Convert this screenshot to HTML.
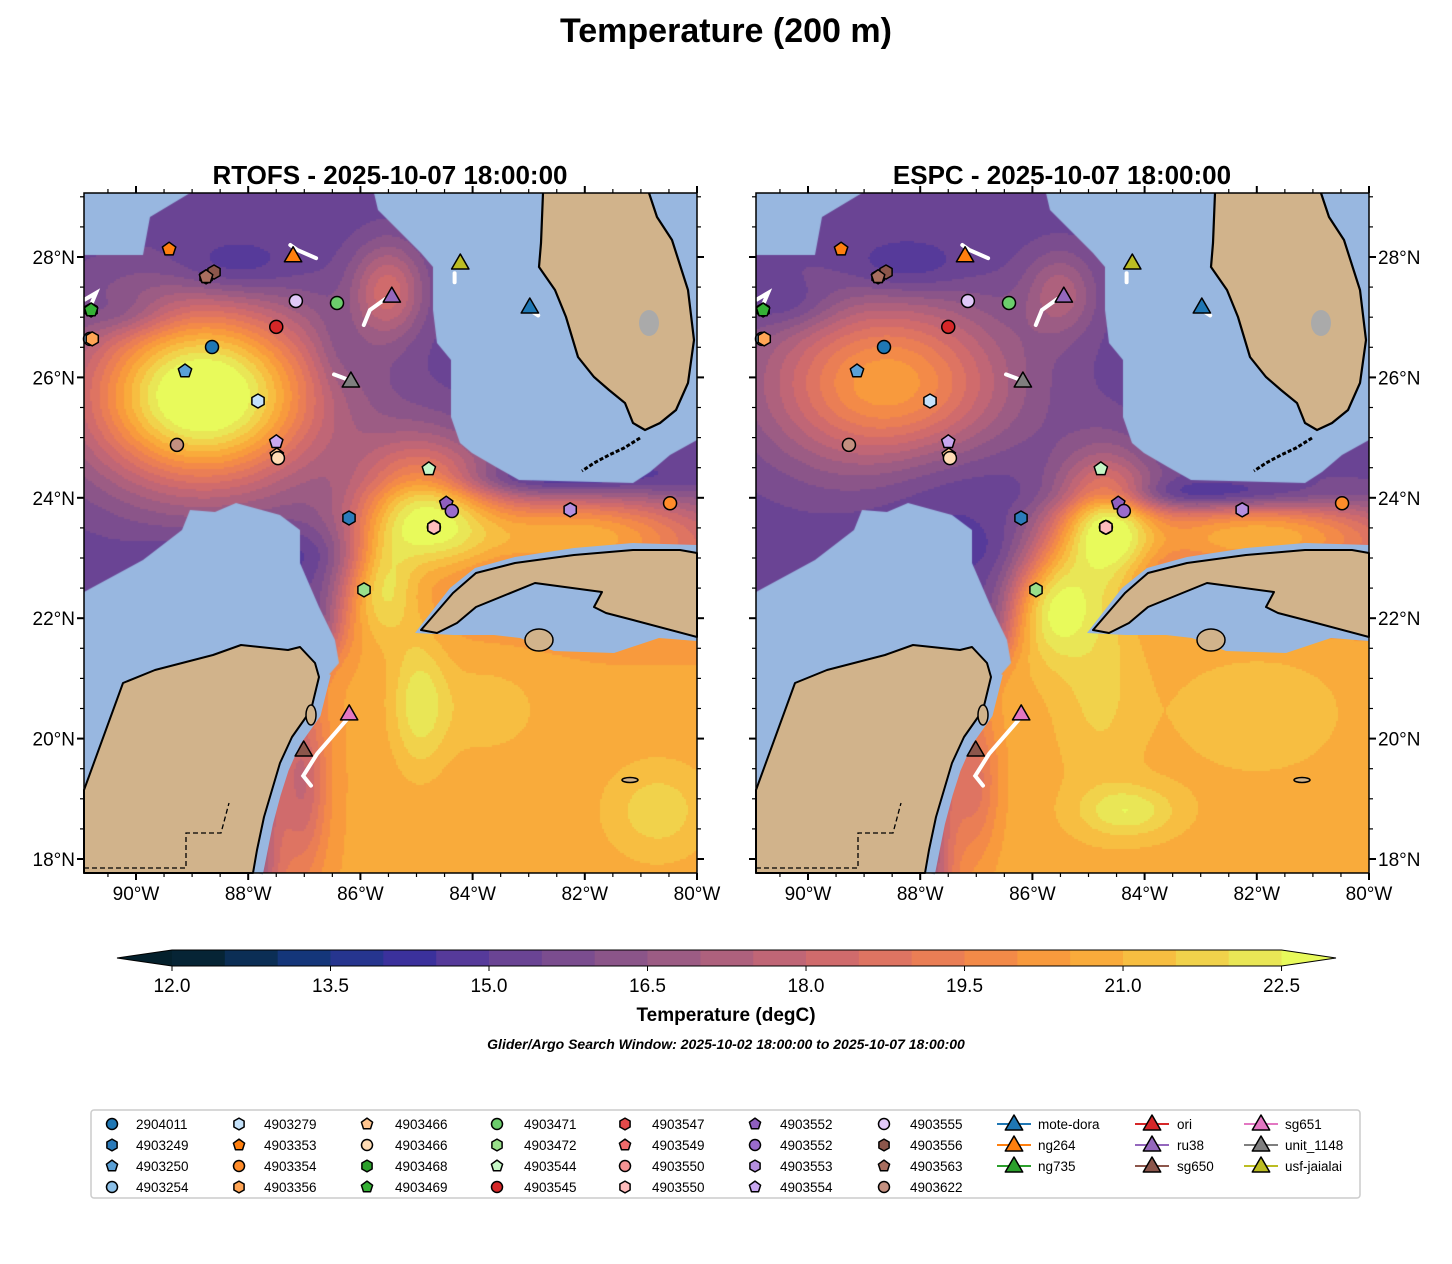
<!DOCTYPE html>
<html><head><meta charset="utf-8"><title>Temperature (200 m)</title>
<style>
html,body{margin:0;padding:0;background:#fff;}
#wrap{position:relative;width:1452px;height:1264px;overflow:hidden;font-family:"Liberation Sans","DejaVu Sans",sans-serif;}
canvas{position:absolute;}
svg{position:absolute;left:0;top:0;}
</style></head>
<body>
<div id="wrap">
<canvas id="cvR" width="613" height="680" style="left:84px;top:193px;width:613px;height:680px"></canvas>
<canvas id="cvE" width="613" height="680" style="left:756px;top:193px;width:613px;height:680px"></canvas>
<svg id="sv" width="1452" height="1264" xmlns="http://www.w3.org/2000/svg">
<text x="726" y="42" text-anchor="middle" font-size="34" font-weight="bold">Temperature (200 m)</text>
<text x="390" y="184" text-anchor="middle" font-size="26" font-weight="bold">RTOFS - 2025-10-07 18:00:00</text>
<text x="1062" y="184" text-anchor="middle" font-size="26" font-weight="bold">ESPC - 2025-10-07 18:00:00</text>
<g id="mapR" transform="translate(84,193)"></g>
<g id="mapE" transform="translate(756,193)"></g>
<g id="cbar"></g>
<text x="726" y="1021" text-anchor="middle" font-size="19" font-weight="bold">Temperature (degC)</text>
<text x="726" y="1049" text-anchor="middle" font-size="14" font-weight="bold" font-style="italic">Glider/Argo Search Window: 2025-10-02 18:00:00 to 2025-10-07 18:00:00</text>
<rect x="91" y="1110" width="1269" height="88" rx="3" fill="#fff" stroke="#cccccc" stroke-width="1.5"/>
<g id="legend"></g>
</svg>
</div>
<script>
// ---------- data ----------
const argoIds = ["2904011","4903249","4903250","4903254","4903279","4903353","4903354","4903356","4903466","4903466","4903468","4903469","4903471","4903472","4903544","4903545","4903547","4903549","4903550","4903550","4903552","4903552","4903553","4903554","4903555","4903556","4903563","4903622"];
const argoShapes = ["o","h","p","o","h","p","o","h","p","o","h","p","o","h","p","o","h","p","o","h","p","o","h","p","o","h","p","o"];
const argoColors = ["#1f77b4","#2b7bba","#5aa0d6","#8cc0e8","#c5e2fa","#ff7f0e","#ff8c2a","#ffa555","#ffc58f","#ffdcb5","#2ca02c","#35b035","#6ccd6c","#98df8a","#c6f7c6","#d62728","#e24a4a","#ef6a6a","#f59494","#ffbcbc","#8f5fbf","#9a6bcc","#b58fe0","#c9a8f0","#e1c8f8","#8c564b","#a86e5f","#c49080"];
const argoLon = [-88.645,-86.203,-89.127,-90.82,-87.825,-89.41,-80.48,-90.78,-87.49,-87.47,-90.80,-90.80,-86.417,-85.936,-84.78,-87.50,-88.75,-88.75,-84.69,-84.69,-84.47,-84.37,-82.26,-87.50,-87.15,-88.61,-88.75,-89.27];
const argoLat = [26.505,23.664,26.106,26.64,25.608,28.13,23.91,26.64,24.71,24.66,27.12,27.12,27.236,22.47,24.48,26.84,27.67,27.67,23.51,23.51,23.91,23.78,23.80,24.93,27.27,27.75,27.67,24.88];
const gliderIds = ["mote-dora","ng264","ng735","ori","ru38","sg650","sg651","unit_1148","usf-jaialai"];
const gliderColors = ["#1f77b4","#ff7f0e","#2ca02c","#d62728","#9467bd","#8c564b","#e377c2","#7f7f7f","#bcbd22"];
const gliderLon = [-82.98,-87.20,null,null,-85.44,-87.01,-86.20,-86.17,-84.22];
const gliderLat = [27.17,28.02,null,null,27.35,19.81,20.41,25.94,27.90];
const trackLon = [[-82.93,-82.83],[-87.25,-87.13,-86.79],[],[],[-85.94,-85.83,-85.56],[-86.21,-86.77,-87.02,-86.88],[],[-86.47,-86.27],[-84.32,-84.32]];
const trackLat = [[27.09,27.03],[28.20,28.12,27.98],[],[],[26.87,27.12,27.30],[20.35,19.75,19.38,19.22],[],[26.05,25.98],[27.73,27.58]];
const cbLevels = [12.0,12.5,13.0,13.5,14.0,14.5,15.0,15.5,16.0,16.5,17.0,17.5,18.0,18.5,19.0,19.5,20.0,20.5,21.0,21.5,22.0,22.5];
const cbColors = ["#062435","#0b2e55","#14367a","#26358f","#3b319c","#563a9a","#6a4494","#7b4d8f","#8b5589","#9c5c84","#ae617d","#c06676","#d06b6c","#de7462","#ea7e55","#f38a48","#f89a3d","#f9ab3b","#f7be41","#f1d24b","#e9e656"];
const cbTicks = [12.0,13.5,15.0,16.5,18.0,19.5,21.0,22.5];
const latTicks = [18,20,22,24,26,28];
const lonTicks = [-90,-88,-86,-84,-82,-80];
// field features: lon, lat, sx, sy, amplitude
const rtofsBlobs = [[-88.8,25.7,1.45,1.05,8.6],[-84.9,23.8,0.85,0.8,5.8],[-85.6,22.6,0.4,0.6,2.5],[-82.2,23.4,1.9,0.5,5.2],[-82.5,24.3,1.6,0.2,-1.6],[-85.5,27.45,0.45,0.55,3.0],[-84.95,20.6,0.35,0.8,1.6],[-87.0,19.3,0.3,1.1,-2.4],[-88.3,27.8,0.8,0.35,-1.3],[-90.2,27.05,0.6,0.25,-1.0],[-87.7,23.1,1.2,0.3,-0.9],[-86.4,26.4,0.3,0.5,-0.6],[-80.7,18.8,0.7,0.6,1.2],[-83.8,20.5,0.8,0.6,0.7]];
const espcBlobs = [[-88.6,25.9,1.5,1.0,5.2],[-84.7,23.5,0.6,0.8,5.6],[-85.6,22.4,0.45,0.7,2.8],[-82.0,23.4,1.9,0.45,5.2],[-82.8,24.05,1.5,0.18,-2.0],[-85.5,27.4,0.45,0.5,2.0],[-84.3,18.8,0.6,0.3,1.6],[-88.3,27.8,0.8,0.35,-1.2],[-90.3,27.2,0.6,0.3,-1.0],[-87.6,24.3,1.0,0.6,-0.7],[-87.5,23.2,1.2,0.35,-0.6],[-87.0,19.3,0.3,0.9,-1.8],[-84.8,21.0,0.5,1.2,0.9],[-82.0,20.5,1.0,0.7,0.6]];

// ---------- axes ----------
function xOf(lon){return 52+(lon+90)*56.1;}
function yOf(lat){return 64+(28-lat)*60.2;}
function lonOf(x){return -90+(x-52)/56.1;}
function latOf(y){return 28-(y-64)/60.2;}
function cbX(v){return 172+(v-12)*105.67;}

function field(lon,lat,blobs,carAmp){
  let t=15.2;
  const s=1/(1+Math.exp((lat-22.6)/0.35));
  const c0=-86.4-1.2/(1+Math.exp(-(21-lat)/0.3));
  const sl=1/(1+Math.exp(-(lon-c0)/0.2));
  t+=carAmp*s*sl;
  for(const b of blobs){const dx=(lon-b[0])/b[2],dy=(lat-b[1])/b[3];t+=b[4]*Math.exp(-0.5*(dx*dx+dy*dy));}
  return t;
}
function colorFor(t){
  if(t<cbLevels[0])return "#04202c";
  if(t>=cbLevels[cbLevels.length-1])return "#e8fa5b";
  return cbColors[Math.floor((t-12)/0.5)];
}
const deep=[[0,62],[59,62],[66,24],[106,0],[290,0],[294,17],[337,60],[349,74],[349,117],[353,150],[367,167],[367,224],[376,250],[388,260],[412,274],[435,287],[549,290],[566,279],[586,262],[613,247],[613,680],[169,680],[186,607],[216,527],[243,484],[255,470],[251,447],[235,414],[216,370],[216,337],[196,322],[152,310],[131,319],[106,317],[98,337],[59,367],[0,399]];
function drawField(id,blobs,carAmp){
  const c=document.getElementById(id).getContext('2d');
  c.fillStyle="#98b7e0";c.fillRect(0,0,613,680);
  c.save();c.beginPath();deep.forEach((p,i)=>i?c.lineTo(p[0],p[1]):c.moveTo(p[0],p[1]));c.closePath();c.clip();
  for(let py=0;py<680;py+=2)for(let px=0;px<613;px+=2){
    c.fillStyle=colorFor(field(lonOf(px+1),latOf(py+1),blobs,carAmp));c.fillRect(px,py,2,2);}
  c.restore();
}
drawField('cvR',rtofsBlobs,5.4);
drawField('cvE',espcBlobs,5.6);

const NS="http://www.w3.org/2000/svg";
function mk(tag,attrs,parent){const e=document.createElementNS(NS,tag);for(const k in attrs)e.setAttribute(k,attrs[k]);parent.appendChild(e);return e;}
function pts(a){return a.map(p=>p.join(',')).join(' ');}
function shapePts(shape,cx,cy,r){
  const n=shape==="h"?6:(shape==="p"?5:3);const o=[];
  for(let i=0;i<n;i++){const a=-Math.PI/2+i*2*Math.PI/n;o.push([(cx+r*Math.cos(a)).toFixed(1),(cy+r*Math.sin(a)).toFixed(1)]);}
  return pts(o);
}
function marker(parent,shape,cx,cy,r,fill){
  cx=+cx;cy=+cy;
  let e;
  if(shape==="o"){e=mk('circle',{cx:cx,cy:cy,r:r,fill:fill,stroke:'#000','stroke-width':1.5},parent);}
  else{e=mk('polygon',{points:shapePts(shape,cx,cy,shape==="t"?r*1.25:r*1.08),fill:fill,stroke:'#000','stroke-width':1.5,'stroke-linejoin':'round'},parent);}
  return e;
}

const yuc=[[0,597],[39,490],[71,477],[129,462],[157,452],[204,457],[216,454],[231,470],[235,484],[227,517],[208,544],[196,570],[188,597],[180,624],[173,657],[169,680],[0,680]];
const cuba=[[337,437],[369,400],[392,380],[431,370],[490,362],[549,357],[596,357],[613,360],[613,444],[549,427],[522,420],[510,414],[518,399],[451,390],[392,414],[373,430],[353,440]];
const cubaShelf=[[331,440],[366,395],[391,375],[431,364],[490,355],[549,350],[613,352],[613,448],[575,445],[530,460],[470,458],[436,445],[410,442],[370,442]];
const fla=[[459,0],[457,50],[455,74],[471,97],[482,124],[488,144],[494,164],[510,184],[525,197],[541,210],[549,230],[561,237],[576,230],[592,217],[604,190],[610,147],[604,97],[588,47],[573,24],[565,0]];

function buildMap(gid,prefix,rightLabels){
  const g=document.getElementById(gid);
  const shelf=mk('polyline',{points:pts([[240,480],[230,520],[210,548],[198,575],[190,600],[182,630],[176,660],[172,680]]),fill:'none',stroke:'#98b7e0','stroke-width':14},g);
  
  
  const cs=mk('polygon',{points:pts(cubaShelf),fill:'#98b7e0'},g);
  
  
  const y=mk('polygon',{points:pts(yuc),fill:'#d1b38b',stroke:'#000','stroke-width':2,'stroke-linejoin':'round'},g);
  
  
  const b=mk('polyline',{points:pts([[0,675],[102,675],[102,640],[137,640],[145,610]]),fill:'none',stroke:'#000','stroke-width':1.3,'stroke-dasharray':'5,3'},g);
  
  
  const cz=mk('ellipse',{cx:227,cy:522,rx:5,ry:10,fill:'#d1b38b',stroke:'#000','stroke-width':1.5},g);
  
  
  const c=mk('polygon',{points:pts(cuba),fill:'#d1b38b',stroke:'#000','stroke-width':2,'stroke-linejoin':'round'},g);
  
  
  const iy=mk('ellipse',{cx:455,cy:447,rx:14,ry:11,fill:'#d1b38b',stroke:'#000','stroke-width':1.5},g);
  
  
  const f=mk('polygon',{points:pts(fla),fill:'#d1b38b',stroke:'none'},g);
  
  
  const fc=mk('polyline',{points:pts(fla),fill:'none',stroke:'#000','stroke-width':2.2},g);
  
  
  const lk=mk('ellipse',{cx:565,cy:130,rx:10,ry:13,fill:'#aaaaaa'},g);
  
  
  const keys=mk('polyline',{points:pts([[556,245],[540,255],[525,262],[510,270],[498,278]]),fill:'none',stroke:'#000','stroke-width':3,'stroke-dasharray':'4,2'},g);
  
  
  const jm=mk('ellipse',{cx:546,cy:587,rx:8,ry:2.5,fill:'#d1b38b',stroke:'#000','stroke-width':1.5},g);
  
  
  for(let i=0;i<gliderIds.length;i++){
    if(trackLon[i].length<2)continue;
    const t=mk('polyline',{points:pts(trackLon[i].map((lo,j)=>[xOf(lo).toFixed(1),yOf(trackLat[i][j]).toFixed(1)])),fill:'none',stroke:'#fff','stroke-width':4,'stroke-linecap':'round'},g);
    
    
  }
  const lt=mk('polyline',{points:pts([[0,107],[12,100],[4,119]]),fill:'none',stroke:'#fff','stroke-width':4},g);
  
  
  for(let i=0;i<argoIds.length;i++){
    const m=marker(g,argoShapes[i],xOf(argoLon[i]),yOf(argoLat[i]),6.5,argoColors[i]);
    
    
  }
  for(let i=0;i<gliderIds.length;i++){
    if(gliderLon[i]===null)continue;
    const m=marker(g,"t",xOf(gliderLon[i]),yOf(gliderLat[i])+1,8,gliderColors[i]);
    
    
  }
  const fr=mk('rect',{x:0,y:0,width:613,height:680,fill:'none',stroke:'#000','stroke-width':1.5},g);
  
  
  for(let lo=-91;lo<=-80;lo+=0.5){const x=xOf(lo);if(x<0||x>613.5)continue;
    const major=Math.abs(lo/2-Math.round(lo/2))<1e-6;const L=major?7:4,w=major?2:1.2;
    const t1=mk('line',{x1:x,y1:680,x2:x,y2:680+L,stroke:'#000','stroke-width':w},g);
    
    
    const t2=mk('line',{x1:x,y1:0,x2:x,y2:-L,stroke:'#000','stroke-width':w},g);
    
    
  }
  for(let la=17.5;la<=29;la+=0.5){const y=yOf(la);if(y<0||y>680)continue;
    const major=Math.abs(la/2-Math.round(la/2))<1e-6;const L=major?7:4,w=major?2:1.2;
    const t1=mk('line',{x1:0,y1:y,x2:-L,y2:y,stroke:'#000','stroke-width':w},g);
    
    
    const t2=mk('line',{x1:613,y1:y,x2:613+L,y2:y,stroke:'#000','stroke-width':w},g);
    
    
  }
  lonTicks.forEach(lo=>{
    const t=mk('text',{x:xOf(lo),y:707,'text-anchor':'middle','font-size':19},g);t.textContent=Math.abs(lo)+'°W';
    
    
  });
  latTicks.forEach(la=>{
    const t=rightLabels?mk('text',{x:622,y:yOf(la)+7,'text-anchor':'start','font-size':19},g):mk('text',{x:-9,y:yOf(la)+7,'text-anchor':'end','font-size':19},g);
    t.textContent=la+'°N';
    
    
  });
}
buildMap('mapR','rtofs',false);
buildMap('mapE','espc',true);

const cb=document.getElementById('cbar');
for(let i=0;i<cbColors.length;i++){
  const r=mk('rect',{x:cbX(cbLevels[i]).toFixed(1),y:950,width:(cbX(cbLevels[i+1])-cbX(cbLevels[i])+0.6).toFixed(1),height:16,fill:cbColors[i]},cb);
  
  
}
const ul=mk('polygon',{points:pts([[cbX(12),950],[117,958],[cbX(12),966]]),fill:'#04202c'},cb);


const ov=mk('polygon',{points:pts([[cbX(22.5),950],[1336,958],[cbX(22.5),966]]),fill:'#e8fa5b'},cb);


const cbo=mk('polygon',{points:pts([[cbX(12),950],[117,958],[cbX(12),966],[cbX(22.5),966],[1336,958],[cbX(22.5),950]]),fill:'none',stroke:'#000','stroke-width':1},cb);


cbTicks.forEach(v=>{
  const l=mk('line',{x1:cbX(v),y1:966,x2:cbX(v),y2:971,stroke:'#000','stroke-width':1},cb);
  
  
  const t=mk('text',{x:cbX(v),y:992,'text-anchor':'middle','font-size':19},cb);t.textContent=v.toFixed(1);
  
  
});

const lg=document.getElementById('legend');
const colMX=[112,239,367,497,625,755,884];
const colTX=[136,264,395,524,652,780,910];
for(let i=0;i<argoIds.length;i++){
  const col=Math.floor(i/4),row=i%4,y=1124+row*21;
  const m=marker(lg,argoShapes[i],colMX[col],y,5.5,argoColors[i]);
  
  
  const t=mk('text',{x:colTX[col],y:y+5,'font-size':13.5},lg);t.textContent=argoIds[i];
  
  
}
const gMX=[1014,1152,1261],gTX=[1038,1177,1285];
for(let i=0;i<gliderIds.length;i++){
  const col=Math.floor(i/3),row=i%3,y=1124+row*21;
  const l=mk('line',{x1:gMX[col]-17,y1:y,x2:gMX[col]+17,y2:y,stroke:gliderColors[i],'stroke-width':2},lg);
  
  
  const m=marker(lg,"t",gMX[col],y+1,8,gliderColors[i]);
  
  
  const t=mk('text',{x:gTX[col],y:y+5,'font-size':13.5},lg);t.textContent=gliderIds[i];
  
  
}
</script>
</body></html>
